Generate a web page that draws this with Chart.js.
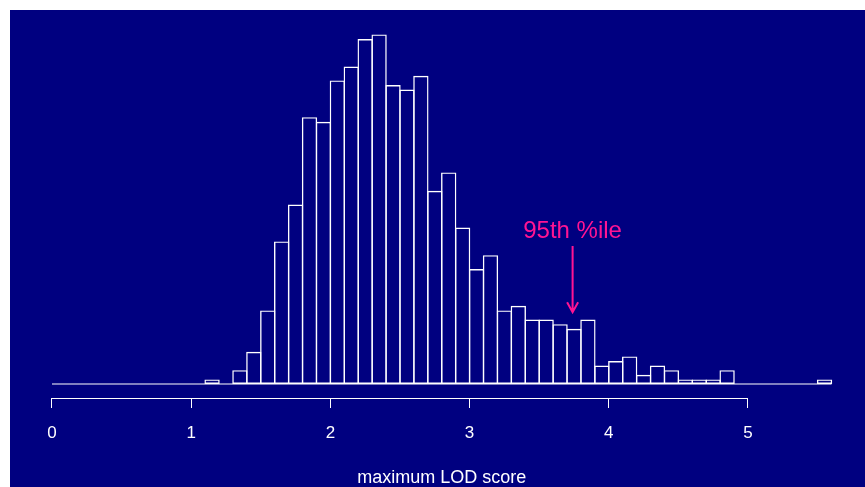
<!DOCTYPE html>
<html>
<head>
<meta charset="utf-8">
<script src="https://cdn.jsdelivr.net/npm/chart.js@4"></script>
<style>
  html, body { margin: 0; padding: 0; background: #fff; }
  #wrap { position: absolute; left: 10px; top: 10px; width: 855px; height: 477px; background: #000080; }
</style>
</head>
<body>
<div id="wrap"><canvas id="c"></canvas></div>
<script>
// histogram of 1000 permutation max LOD scores, bin width 0.1
const binLeft = [0.0, 0.1, 0.2, 0.3, 0.4, 0.5, 0.6, 0.7, 0.8, 0.9,
                 1.0, 1.1, 1.2, 1.3, 1.4, 1.5, 1.6, 1.7, 1.8, 1.9,
                 2.0, 2.1, 2.2, 2.3, 2.4, 2.5, 2.6, 2.7, 2.8, 2.9,
                 3.0, 3.1, 3.2, 3.3, 3.4, 3.5, 3.6, 3.7, 3.8, 3.9,
                 4.0, 4.1, 4.2, 4.3, 4.4, 4.5, 4.6, 4.7, 4.8, 4.9,
                 5.0, 5.1, 5.2, 5.3, 5.4, 5.5];
const binWidth = 0.1;
const counts = [0, 0, 0, 0, 0, 0, 0, 0, 0, 0,
                0, 1, 0, 3, 7, 16, 31, 39, 58, 57,
                66, 69, 75, 76, 65, 64, 67, 42, 46, 34,
                25, 28, 16, 17, 14, 14, 13, 12, 14, 4,
                5, 6, 2, 4, 3, 1, 1, 1, 3, 0,
                0, 0, 0, 0, 0, 1];
const tickValues = [0, 1, 2, 3, 4, 5];
const xLabel = 'maximum LOD score';

// annotation: 95th percentile arrow
const pct95 = 3.74;
const pctText = '95th %ile';
const arrowFrom = 30;
const arrowTo = 15.6;
const textAt = 31.7;

const FONT = '"Liberation Sans", Arial, Helvetica, sans-serif';
const PINK = '#FF1493';

const xMin = binLeft[0], xMax = binLeft[binLeft.length - 1] + binWidth;
const yMax = Math.max(...counts);
const xPad = (xMax - xMin) * 0.04, yPad = yMax * 0.04;

const barData = binLeft.map((b, i) => ({ x: b + binWidth / 2, y: counts[i] }));

const rAxis = {
  id: 'rAxis',
  afterDraw(chart) {
    const ctx = chart.ctx, x = chart.scales.x, y = chart.scales.y;
    const bottom = chart.chartArea.bottom;
    ctx.save();
    ctx.strokeStyle = '#fff';
    ctx.lineWidth = 1;
    ctx.beginPath();
    ctx.moveTo(x.getPixelForValue(tickValues[0]), bottom + 0.5);
    ctx.lineTo(x.getPixelForValue(tickValues[tickValues.length - 1]), bottom + 0.5);
    ctx.stroke();

    // arrow + label
    const ax = x.getPixelForValue(pct95);
    const y0 = y.getPixelForValue(arrowFrom), y1 = y.getPixelForValue(arrowTo);
    ctx.strokeStyle = PINK;
    ctx.lineWidth = 2;
    ctx.beginPath();
    ctx.moveTo(ax, y0); ctx.lineTo(ax, y1);
    ctx.moveTo(ax - 5.5, y1 - 10); ctx.lineTo(ax, y1); ctx.lineTo(ax + 5.5, y1 - 10);
    ctx.stroke();
    ctx.fillStyle = PINK;
    ctx.font = '24px ' + FONT;
    ctx.textAlign = 'center';
    ctx.textBaseline = 'alphabetic';
    ctx.fillText(pctText, ax, y.getPixelForValue(textAt));
    ctx.restore();
  }
};

new Chart(document.getElementById('c'), {
  type: 'bar',
  data: {
    datasets: [{
      type: 'line',
      data: [{ x: xMin, y: 0 }, { x: xMax, y: 0 }],
      borderColor: '#fff',
      borderWidth: 1.2,
      pointRadius: 0
    }, {
      data: barData,
      backgroundColor: 'rgba(0,0,0,0)',
      borderColor: '#fff',
      borderWidth: 1.4,
      borderSkipped: false,
      // slightly wider than the bin so neighbouring borders overlap into one line
      barPercentage: 1.1,
      categoryPercentage: 1
    }]
  },
  options: {
    responsive: true,
    maintainAspectRatio: false,
    animation: false,
    layout: { padding: { left: 10.8, right: 2.3, top: 10.4, bottom: 0 } },
    plugins: { legend: { display: false }, tooltip: { enabled: false } },
    scales: {
      x: {
        type: 'linear',
        offset: false,
        min: xMin - xPad,
        max: xMax + xPad,
        afterBuildTicks: s => { s.ticks = tickValues.map(v => ({ value: v })); },
        afterFit: s => { s.height = 89; },
        grid: { offset: false, drawOnChartArea: false, drawTicks: true, tickLength: 10, color: '#fff', lineWidth: 1 },
        border: { display: false },
        ticks: { color: '#fff', font: { family: FONT, size: 17 }, padding: 15, maxRotation: 0 },
        title: { display: true, text: xLabel, color: '#fff', font: { family: FONT, size: 18, lineHeight: 1 }, padding: 0 }
      },
      y: {
        display: false,
        min: -yPad,
        max: yMax + yPad
      }
    }
  },
  plugins: [rAxis]
});
</script>
</body>
</html>
